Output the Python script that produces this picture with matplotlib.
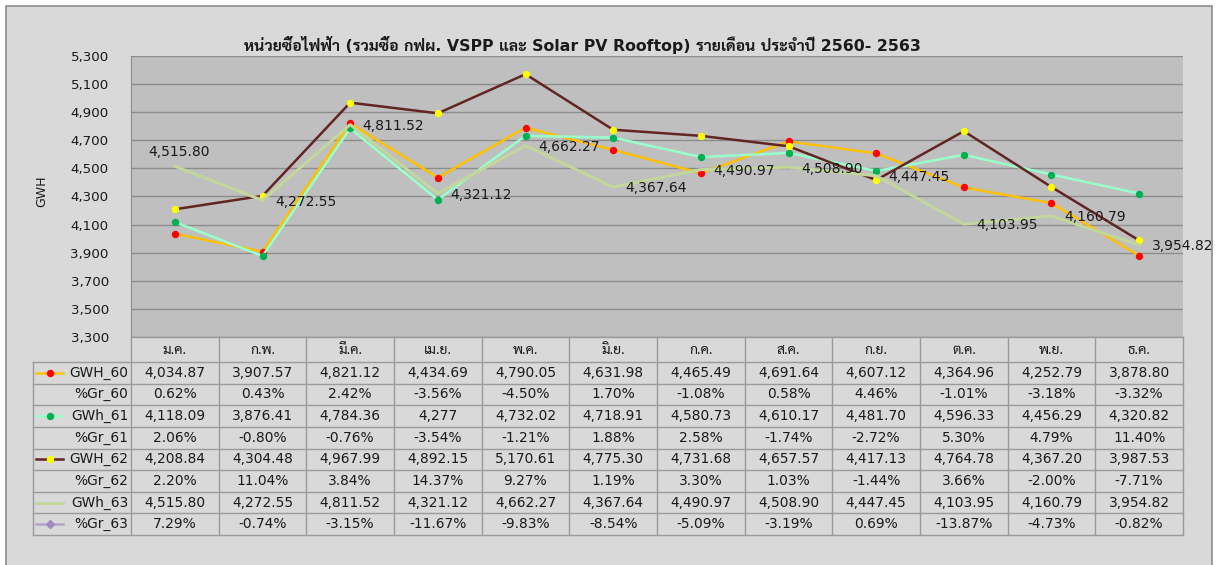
import numpy as np
import matplotlib
matplotlib.use("Agg")
import matplotlib.pyplot as plt
from matplotlib import font_manager as fm
from matplotlib.ft2font import FT2Font
from matplotlib.patches import Rectangle
from matplotlib.lines import Line2D

# ---------------- data ----------------
title = "หน่วยซื้อไฟฟ้า (รวมซื้อ กฟผ. VSPP และ Solar PV Rooftop) รายเดือน ประจำปี 2560- 2563"
months = ["ม.ค.", "ก.พ.", "มี.ค.", "เม.ย.", "พ.ค.", "มิ.ย.",
          "ก.ค.", "ส.ค.", "ก.ย.", "ต.ค.", "พ.ย.", "ธ.ค."]
row_names = ["GWH_60", "%Gr_60", "GWh_61", "%Gr_61",
             "GWH_62", "%Gr_62", "GWh_63", "%Gr_63"]
gwh_60 = [4034.87, 3907.57, 4821.12, 4434.69, 4790.05, 4631.98,
          4465.49, 4691.64, 4607.12, 4364.96, 4252.79, 3878.80]
gr_60 = [0.62, 0.43, 2.42, -3.56, -4.50, 1.70,
         -1.08, 0.58, 4.46, -1.01, -3.18, -3.32]
gwh_61 = [4118.09, 3876.41, 4784.36, 4277, 4732.02, 4718.91,
          4580.73, 4610.17, 4481.70, 4596.33, 4456.29, 4320.82]
gr_61 = [2.06, -0.80, -0.76, -3.54, -1.21, 1.88,
         2.58, -1.74, -2.72, 5.30, 4.79, 11.40]
gwh_62 = [4208.84, 4304.48, 4967.99, 4892.15, 5170.61, 4775.30,
          4731.68, 4657.57, 4417.13, 4764.78, 4367.20, 3987.53]
gr_62 = [2.20, 11.04, 3.84, 14.37, 9.27, 1.19,
         3.30, 1.03, -1.44, 3.66, -2.00, -7.71]
gwh_63 = [4515.80, 4272.55, 4811.52, 4321.12, 4662.27, 4367.64,
          4490.97, 4508.90, 4447.45, 4103.95, 4160.79, 3954.82]
gr_63 = [7.29, -0.74, -3.15, -11.67, -9.83, -8.54,
         -5.09, -3.19, 0.69, -13.87, -4.73, -0.82]
y_ticks = [3300, 3500, 3700, 3900, 4100, 4300, 4500, 4700, 4900, 5100, 5300]
y_label = "GWH"

# ---------------- fonts ----------------
def find_thai():
    prefs = ["Noto Sans Thai Looped", "Noto Sans Thai", "Sarabun", "Tahoma",
             "Loma", "Garuda", "Kanit", "Prompt", "Bai Jamjuree"]
    fams = {}
    for f in fm.fontManager.ttflist:
        fams.setdefault(f.name, []).append(f)

    def has_thai(entries):
        try:
            return 0x0E2B in FT2Font(entries[0].fname).get_charmap()
        except Exception:
            return False

    def has_bold(entries):
        ws = []
        for e in entries:
            w = e.weight
            if isinstance(w, str):
                w = 700 if "bold" in w.lower() else 400
            ws.append(w)
        return any(w >= 600 for w in ws) and any(w <= 500 for w in ws)

    for p in prefs:
        if p in fams and has_bold(fams[p]) and has_thai(fams[p]):
            return p
    for p in prefs:
        if p in fams and has_thai(fams[p]):
            return p
    for name, entries in sorted(fams.items()):
        if has_thai(entries):
            return name
    return "DejaVu Sans"

thai = find_thai()
FAM = ["DejaVu Sans", thai]
plt.rcParams["font.family"] = FAM
TXT = "#1a1a1a"

# ---------------- layout ----------------
W, H = 1216, 565
fig = plt.figure(figsize=(W / 100, H / 100), dpi=100, facecolor="white")
bg = Rectangle((6 / W, -0.05), (1212 - 6) / W, 1 - 6 / H + 0.05,
               transform=fig.transFigure, facecolor="#D9D9D9",
               edgecolor="#8C8C8C", lw=1.2, zorder=-10)
fig.patches.append(bg)

L, R, T, B = 131, 1183, 56, 337
ax = fig.add_axes([L / W, 1 - B / H, (R - L) / W, (B - T) / H])
ax.set_facecolor("#BFBFBF")
ax.set_xlim(-0.5, 11.5)
ax.set_ylim(3300, 5300)
ax.set_yticks(y_ticks)
ax.set_yticklabels([f"{v:,}" for v in y_ticks], fontsize=9.6, color=TXT)
ax.tick_params(axis="y", length=0, pad=16)
ax.set_xticks([])
ax.grid(axis="y", color="#8C8C8C", lw=1)
ax.set_axisbelow(True)
for s in ["top", "right", "bottom"]:
    ax.spines[s].set_visible(False)
ax.spines["left"].set_color("#8C8C8C")
ax.set_ylabel(y_label, fontsize=9, color=TXT)
ax.yaxis.set_label_coords((48 - L) / (R - L), 0.52)

x = np.arange(len(months))
styles = {
    "GWH_60": dict(color="#FFC000", lw=1.8, marker="o", ms=4.3, mfc="#FF0000", mec="#FF0000"),
    "GWh_61": dict(color="#99FFCC", lw=1.8, marker="o", ms=4.3, mfc="#00B050", mec="#00B050"),
    "GWH_62": dict(color="#632523", lw=1.8, marker="o", ms=4.3, mfc="#FFFF00", mec="#FFFF00"),
    "GWh_63": dict(color="#C3D69B", lw=2.2),
    "%Gr_63": dict(color="#B3A2C7", lw=1.8, marker="D", ms=4, mfc="#9E8CC0", mec="#9E8CC0"),
}
ax.plot(x, gwh_60, zorder=3, **styles["GWH_60"])
ax.plot(x, gwh_61, zorder=4, **styles["GWh_61"])
ax.plot(x, gwh_62, zorder=5, **styles["GWH_62"])
ax.plot(x, gwh_63, zorder=6, **styles["GWh_63"])

for i, v in enumerate(gwh_63):
    if i == 0:
        ax.annotate(f"{v:,.2f}", (i, v), xytext=(3, 10), textcoords="offset points",
                    ha="center", va="center", fontsize=10, color=TXT, zorder=8)
    else:
        ax.annotate(f"{v:,.2f}", (i, v), xytext=(9, -1), textcoords="offset points",
                    ha="left", va="center", fontsize=10, color=TXT, zorder=8)

# title
fig.text(582 / W, 1 - 45 / H, title, ha="center", va="center", fontsize=11.3,
         fontweight="bold", color=TXT, family=FAM)

# ---------------- data table ----------------
tax = fig.add_axes([0, 0, 1, 1], facecolor="none")
tax.set_xlim(0, W)
tax.set_ylim(H, 0)
tax.axis("off")

x_leg = 33
col_w = (R - L) / 12
col_edges = [L + k * col_w for k in range(13)]
head_top, head_bot, tab_bot = B, 362, 535
row_h = (tab_bot - head_bot) / 8
row_edges = [head_bot + r * row_h for r in range(9)]
bc = "#9A9A9A"

tax.plot([L, R], [head_top, head_top], color=bc, lw=1)
for r in row_edges:
    tax.plot([x_leg, R], [r, r], color=bc, lw=1)
for c in col_edges:
    tax.plot([c, c], [head_top, tab_bot], color=bc, lw=1)
tax.plot([x_leg, x_leg], [head_bot, tab_bot], color=bc, lw=1)

for k, m in enumerate(months):
    tax.text(L + (k + 0.5) * col_w, (head_top + head_bot) / 2 + 0.5, m, ha="center",
             va="center", fontsize=10, color=TXT, family=[thai, "DejaVu Sans"])

rows = [gwh_60, gr_60, gwh_61, gr_61, gwh_62, gr_62, gwh_63, gr_63]

def fmt(name, v):
    if name.startswith("%"):
        return f"{v:.2f}%"
    if isinstance(v, int):
        return f"{v:,}"
    return f"{v:,.2f}"

for r, (name, vals) in enumerate(zip(row_names, rows)):
    yc = head_bot + (r + 0.5) * row_h
    tax.text(128, yc, name, ha="right", va="center", fontsize=9.9, color=TXT)
    for k, v in enumerate(vals):
        tax.text(L + (k + 0.5) * col_w, yc, fmt(name, v), ha="center", va="center",
                 fontsize=9.9, color=TXT)
    if name in styles:
        st = dict(styles[name])
        marker = st.pop("marker", None)
        ms = st.pop("ms", None)
        mfc = st.pop("mfc", None)
        mec = st.pop("mec", None)
        tax.add_line(Line2D([36, 63], [yc, yc], **st))
        if marker:
            tax.add_line(Line2D([49.5], [yc], linestyle="none", marker=marker, ms=ms,
                                mfc=mfc, mec=mec))

fig.savefig("out.png", dpi=100, facecolor="white")
